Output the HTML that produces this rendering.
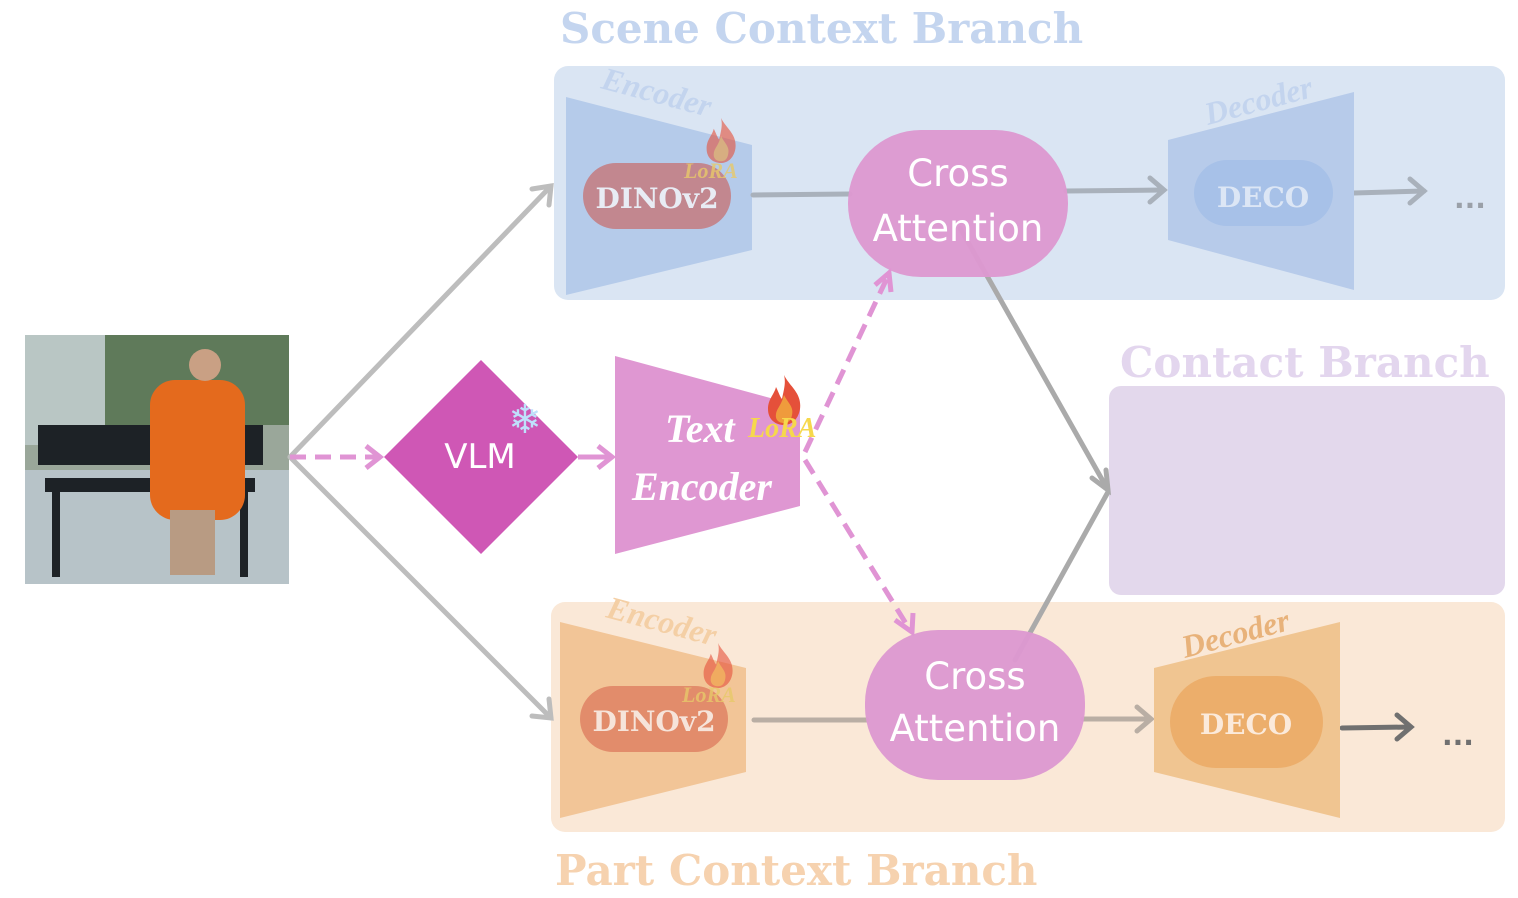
<!DOCTYPE html>
<html><head><meta charset="utf-8"><style>
html,body{margin:0;padding:0;background:#fff;}
svg{display:block;}
.serif{font-family:"DejaVu Serif","Liberation Serif",serif;font-weight:bold;}
.lserif{font-family:"Liberation Serif","DejaVu Serif",serif;font-weight:bold;}
.sans{font-family:"DejaVu Sans","Liberation Sans",sans-serif;}
</style></head><body>
<svg width="1518" height="898" viewBox="0 0 1518 898" xmlns="http://www.w3.org/2000/svg">
<defs>
<symbol id="flame" viewBox="0 0 40 50">
<path d="M20 0 C26 12 38 18 36 34 C34 46 26 50 20 50 C12 50 4 45 4 34 C4 24 10 20 12 12 C15 18 16 22 18 24 C20 14 22 8 20 0Z" fill="#e5503a"/>
<path d="M20 20 C24 28 30 32 28 40 C27 46 24 48 20 48 C15 48 11 45 12 39 C13 33 17 31 20 20Z" fill="#ef9b3c"/>
</symbol>
</defs>
<rect x="554" y="66" width="951" height="234" rx="14" fill="#dae5f3"/>
<rect x="1109" y="386" width="396" height="209" rx="12" fill="#e3d8ec"/>
<rect x="551" y="602" width="954" height="230" rx="14" fill="#fae8d7"/>
<text x="560" y="43" class="serif" font-size="42" fill="#c4d5ef">Scene Context Branch</text>
<text x="1120" y="377" class="serif" font-size="42" fill="#e3d6ee">Contact Branch</text>
<text x="555" y="885" class="serif" font-size="42" fill="#f6d2af">Part Context Branch</text>
<g>
<rect x="25" y="335" width="264" height="249" fill="#9aa79a"/>
<rect x="25" y="335" width="264" height="90" fill="#5f7a5a"/>
<rect x="25" y="335" width="80" height="110" fill="#b9c6c4"/>
<rect x="25" y="470" width="264" height="114" fill="#b7c3c8"/>
<rect x="38" y="425" width="225" height="40" fill="#1d2226"/>
<rect x="45" y="478" width="210" height="14" fill="#1d2226"/>
<rect x="52" y="492" width="8" height="85" fill="#1d2226"/>
<rect x="240" y="492" width="8" height="85" fill="#1d2226"/>
<rect x="150" y="380" width="95" height="140" rx="25" fill="#e46a1d"/>
<circle cx="205" cy="365" r="16" fill="#c9a084"/>
<rect x="170" y="510" width="45" height="65" fill="#b89b83"/>
</g>
<g stroke="#bdbdbd" stroke-width="5" fill="none" stroke-linecap="round">
<line x1="290" y1="457" x2="551" y2="186"/>
<polyline points="532,189 551,186 549,205"/>
<line x1="290" y1="457" x2="551" y2="718"/>
<polyline points="532,716 551,718 549,699"/>
</g>
<polygon points="566,97 752,145 752,250 566,295" fill="#b5cbea"/>
<text transform="translate(600,88) rotate(15)" class="lserif" font-style="italic" font-weight="normal" font-size="32" fill="#c3d4ee">Encoder</text>
<rect x="583" y="163" width="148" height="66" rx="33" fill="#c2878f"/>
<text x="657" y="208" text-anchor="middle" class="serif" font-size="28" fill="#e8ecf4">DINOv2</text>
<use href="#flame" x="703" y="118" width="36" height="45" opacity="0.6"/>
<text x="684" y="178" class="lserif" font-style="italic" font-size="22" fill="#e8c96a" opacity="0.8">LoRA</text>
<g stroke="#a9b1bb" stroke-width="5" fill="none" stroke-linecap="round">
<line x1="753" y1="195" x2="850" y2="194"/>
<line x1="1066" y1="191" x2="1163" y2="190"/>
<polyline points="1150,178 1164,190 1150,202"/>
<line x1="1354" y1="193" x2="1424" y2="191"/>
<polyline points="1410,179 1424,191 1410,203"/>
<line x1="960" y1="228" x2="1108" y2="490" stroke="#aaaaaa"/>
<line x1="1015" y1="660" x2="1108" y2="492" stroke="#aaaaaa"/>
<polyline points="1092,478 1108,490 1106,470" stroke="#aaaaaa"/>
</g>
<rect x="848" y="130" width="220" height="147" rx="73" fill="#dd99d1" opacity="0.97"/>
<text x="958" y="186" text-anchor="middle" class="sans" font-size="37" fill="#fff">Cross</text>
<text x="958" y="241" text-anchor="middle" class="sans" font-size="37" fill="#fff">Attention</text>
<polygon points="1168,140 1354,92 1354,290 1168,240" fill="#b7cbea"/>
<text transform="translate(1208,125) rotate(-15)" class="lserif" font-style="italic" font-weight="normal" font-size="32" fill="#c3d4ee">Decoder</text>
<rect x="1194" y="160" width="139" height="66" rx="33" fill="#a7c1e8"/>
<text x="1263" y="207" text-anchor="middle" class="serif" font-size="28" fill="#dce6f5">DECO</text>
<text x="1470" y="208" text-anchor="middle" class="sans" font-weight="bold" font-size="28" fill="#9aa0a8">...</text>
<g stroke="#e094d4" stroke-width="5" fill="none" stroke-dasharray="16,9">
<line x1="290" y1="457" x2="378" y2="457"/>
<line x1="578" y1="457" x2="608" y2="457" stroke-dasharray="none"/>
<line x1="805" y1="452" x2="888" y2="276"/>
<line x1="805" y1="460" x2="910" y2="630"/>
</g>
<g stroke="#e094d4" stroke-width="5" fill="none">
<polyline points="366,446 380,457 366,468"/>
<polyline points="598,446 612,457 598,468"/>
<polyline points="875,285 889,273 891,292"/>
<polyline points="895,620 912,632 913,613"/>
</g>
<polygon points="481,360 578,457 481,554 384,457" fill="#cf57b5"/>
<text x="480" y="468" text-anchor="middle" class="sans" font-size="34" fill="#fff">VLM</text>
<text x="525" y="433" text-anchor="middle" font-size="40" fill="#bfe0fb" class="sans">❄</text>
<polygon points="615,356 800,406 800,506 615,554" fill="#df97d2"/>
<text x="665" y="442" class="lserif" font-style="italic" font-size="40" fill="#fff">Text</text>
<text x="632" y="500" class="lserif" font-style="italic" font-size="40" fill="#fff">Encoder</text>
<use href="#flame" x="764" y="375" width="40" height="50"/>
<text x="748" y="437" class="lserif" font-style="italic" font-size="28" fill="#f6d84c">LoRA</text>
<polygon points="560,622 746,668 746,772 560,818" fill="#f2c597"/>
<text transform="translate(605,617) rotate(15)" class="lserif" font-style="italic" font-weight="normal" font-size="32" fill="#f4cfa5">Encoder</text>
<rect x="580" y="686" width="148" height="66" rx="33" fill="#e28c6b"/>
<text x="654" y="731" text-anchor="middle" class="serif" font-size="28" fill="#f6e4da">DINOv2</text>
<use href="#flame" x="700" y="643" width="36" height="45" opacity="0.6"/>
<text x="682" y="702" class="lserif" font-style="italic" font-size="22" fill="#e8c96a" opacity="0.8">LoRA</text>
<g stroke="#b9aea4" stroke-width="5" fill="none" stroke-linecap="round">
<line x1="754" y1="720" x2="867" y2="720"/>
<line x1="1083" y1="719" x2="1150" y2="719"/>
<polyline points="1137,707 1151,719 1137,731"/>
</g>
<g stroke="#707070" stroke-width="5" fill="none" stroke-linecap="round">
<line x1="1342" y1="728" x2="1410" y2="727"/>
<polyline points="1397,715 1411,727 1397,739"/>
</g>
<rect x="865" y="630" width="220" height="150" rx="73" fill="#dd99d1" opacity="0.97"/>
<text x="975" y="689" text-anchor="middle" class="sans" font-size="37" fill="#fff">Cross</text>
<text x="975" y="741" text-anchor="middle" class="sans" font-size="37" fill="#fff">Attention</text>
<polygon points="1154,668 1340,622 1340,818 1154,772" fill="#f0c591"/>
<text transform="translate(1185,658) rotate(-15)" class="lserif" font-style="italic" font-weight="normal" font-size="32" fill="#e8b27a">Decoder</text>
<rect x="1170" y="676" width="153" height="92" rx="46" fill="#ecae6b"/>
<text x="1246" y="734" text-anchor="middle" class="serif" font-size="28" fill="#fbeadb">DECO</text>
<text x="1458" y="745" text-anchor="middle" class="sans" font-weight="bold" font-size="28" fill="#707070">...</text>
</svg>
</body></html>
